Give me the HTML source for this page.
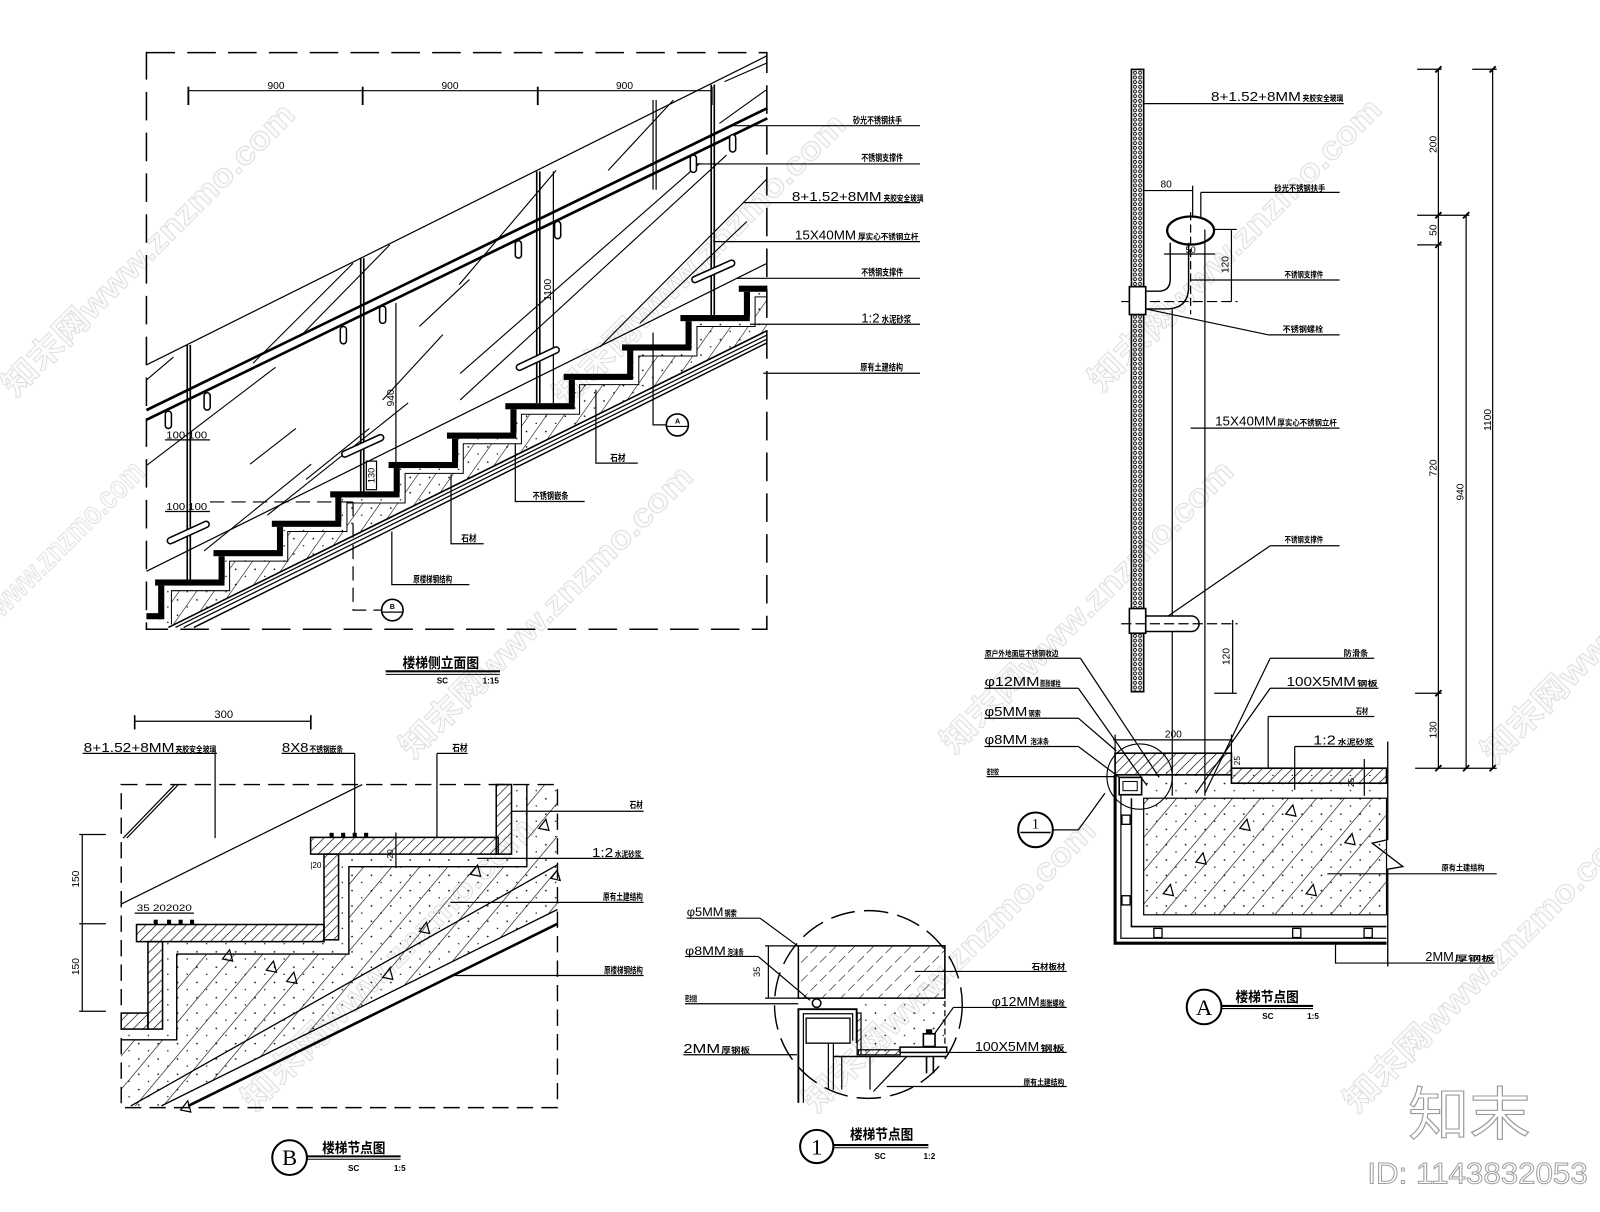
<!DOCTYPE html>
<html><head><meta charset="utf-8"><title>楼梯节点图</title>
<style>html,body{margin:0;padding:0;background:#fff}svg{display:block}</style></head>
<body>
<svg xmlns="http://www.w3.org/2000/svg" width="1600" height="1212" viewBox="0 0 1568 1188" preserveAspectRatio="none" font-family="'Liberation Sans','Noto Sans CJK SC',sans-serif">
<defs>
<pattern id="hc" width="14" height="14" patternUnits="userSpaceOnUse" patternTransform="rotate(35)"><line x1="0" y1="0" x2="0" y2="14" stroke="#000" stroke-width="1.1"/></pattern>
<pattern id="hb" width="21" height="21" patternUnits="userSpaceOnUse" patternTransform="rotate(40)"><line x1="0" y1="0" x2="0" y2="21" stroke="#000" stroke-width="1.2"/></pattern>
<pattern id="hs" width="7" height="7" patternUnits="userSpaceOnUse" patternTransform="rotate(45)"><line x1="0" y1="0" x2="0" y2="7" stroke="#000" stroke-width="1.3"/></pattern>
<pattern id="hd" width="13" height="13" patternUnits="userSpaceOnUse" patternTransform="rotate(45)"><line x1="0" y1="0" x2="0" y2="13" stroke="#000" stroke-width="1.1" stroke-dasharray="8 4"/></pattern>
<pattern id="dt" width="19" height="15" patternUnits="userSpaceOnUse"><circle cx="3" cy="3" r="0.8"/><circle cx="12.5" cy="10" r="0.7"/></pattern>
<pattern id="gl" x="1108.8" y="0" width="12" height="4.6" patternUnits="userSpaceOnUse"><circle cx="3.5" cy="2.3" r="1.5" fill="none" stroke="#000" stroke-width="0.9"/><circle cx="8.5" cy="2.3" r="1.5" fill="none" stroke="#000" stroke-width="0.9"/></pattern>
</defs>
<rect width="1568" height="1188" fill="#fff"/>

<!-- watermarks -->
<g font-size="32" font-weight="bold" fill="#fbfbfb" stroke="#dddddd" stroke-width="0.9">
<text transform="translate(15,390) rotate(-45)" textLength="390" lengthAdjust="spacingAndGlyphs">知末网www.znzmo.com</text>
<text transform="translate(2,606) rotate(-45)" textLength="200" lengthAdjust="spacingAndGlyphs">www.znzmo.com</text>
<text transform="translate(405,745) rotate(-45)" textLength="390" lengthAdjust="spacingAndGlyphs">知末网www.znzmo.com</text>
<text transform="translate(555,400) rotate(-45)" textLength="390" lengthAdjust="spacingAndGlyphs">知末网www.znzmo.com</text>
<text transform="translate(1080,385) rotate(-45)" textLength="390" lengthAdjust="spacingAndGlyphs">知末网www.znzmo.com</text>
<text transform="translate(935,740) rotate(-45)" textLength="390" lengthAdjust="spacingAndGlyphs">知末网www.znzmo.com</text>
<text transform="translate(800,1092) rotate(-45)" textLength="390" lengthAdjust="spacingAndGlyphs">知末网www.znzmo.com</text>
<text transform="translate(1330,1092) rotate(-45)" textLength="390" lengthAdjust="spacingAndGlyphs">知末网www.znzmo.com</text>
<text transform="translate(250,1090) rotate(-45)" textLength="390" lengthAdjust="spacingAndGlyphs">知末网www.znzmo.com</text>
<text transform="translate(1465,750) rotate(-45)" textLength="390" lengthAdjust="spacingAndGlyphs">知末网www.znzmo.com</text>
</g>

<!-- ================= ELEVATION ================= -->
<g stroke="#000" fill="none" stroke-width="1.2">
<rect x="143.5" y="51.6" width="608" height="565.2" stroke-dasharray="28 12" stroke-width="1.5"/>
<line x1="184" y1="88.9" x2="698" y2="88.9"/>
<line x1="184.6" y1="85" x2="184.6" y2="103" stroke-width="1.8"/>
<line x1="355.4" y1="85" x2="355.4" y2="103" stroke-width="1.8"/>
<line x1="527" y1="85" x2="527" y2="103" stroke-width="1.8"/>
<line x1="697.5" y1="85" x2="697.5" y2="103" stroke-width="1.8"/>
<polygon fill="url(#dt)" stroke="none" points="152,568 220,568 220,539 277,539 277,510 335,510 335,482 392,482 392,453 449,453 449,424 506,424 506,395 563,395 563,366 621,366 621,338 678,338 678,309 735,309 735,280 752,280 752,324 165,615 155,615 155,574"/>
<polygon fill="url(#hc)" stroke="none" points="168,612 168,579 225,579 225,550 282,550 282,521 340,521 340,493 397,493 397,464 454,464 454,435 511,435 511,406 568,406 568,377 626,377 626,349 683,349 683,320 740,320 740,291 752,291 752,324 165,615"/>
<polyline stroke-width="1" points="168,612 168,579 225,579 225,550 282,550 282,521 340,521 340,493 397,493 397,464 454,464 454,435 511,435 511,406 568,406 568,377 626,377 626,349 683,349 683,320 740,320 740,291 752,291"/>
<line x1="165" y1="615" x2="752" y2="324" stroke-width="1.6"/>
<line x1="172" y1="615" x2="752" y2="328.2"/>
<line x1="180" y1="615" x2="752" y2="332.2"/>
<line x1="190" y1="615" x2="752" y2="335.9" stroke-width="1.4"/>
<line x1="143.5" y1="357.7" x2="752" y2="54.5"/>
<line x1="143.5" y1="560" x2="752" y2="258"/>
<line x1="143.5" y1="402" x2="752" y2="106" stroke-width="2.6"/>
<line x1="143.5" y1="411.5" x2="752" y2="116" stroke-width="2.6"/>
<g stroke-width="1.1">
<line x1="144" y1="372" x2="170" y2="350"/>
<line x1="144" y1="456" x2="270" y2="360"/>
<line x1="248" y1="356" x2="346" y2="258"/>
<line x1="294" y1="330" x2="382" y2="240"/>
<line x1="200" y1="540" x2="305" y2="455"/>
<line x1="245" y1="455" x2="290" y2="420"/>
<line x1="262" y1="505" x2="400" y2="395"/>
<line x1="300" y1="470" x2="362" y2="420"/>
<line x1="375" y1="392" x2="434" y2="328"/>
<line x1="411" y1="320" x2="460" y2="274"/>
<line x1="450" y1="279" x2="545" y2="167"/>
<line x1="451" y1="366" x2="686" y2="160"/>
<line x1="451" y1="392" x2="712" y2="152"/>
<line x1="588" y1="340" x2="751" y2="176"/>
<line x1="627" y1="317" x2="732" y2="217"/>
<line x1="596" y1="167" x2="660" y2="98"/>
<line x1="705" y1="121" x2="751" y2="88"/>
<line x1="710" y1="80" x2="751" y2="62"/>
</g>
<line x1="640" y1="98" x2="640" y2="186"/>
<line x1="643" y1="98" x2="643" y2="186"/>
<line x1="183.5" y1="338" x2="183.5" y2="568" stroke-width="1.6"/><line x1="186.5" y1="338" x2="186.5" y2="568" stroke-width="1.6"/>
<line x1="353.5" y1="253" x2="353.5" y2="482" stroke-width="1.6"/><line x1="356.5" y1="253" x2="356.5" y2="482" stroke-width="1.6"/>
<line x1="526" y1="168" x2="526" y2="395" stroke-width="1.6"/><line x1="529" y1="168" x2="529" y2="395" stroke-width="1.6"/>
<line x1="697" y1="83" x2="697" y2="309" stroke-width="1.6"/><line x1="700" y1="83" x2="700" y2="309" stroke-width="1.6"/>
<line x1="542.3" y1="168" x2="542.3" y2="395"/>
<line x1="388" y1="297" x2="388" y2="455"/>
<rect x="359" y="452" width="10" height="28"/>
<line x1="161.7" y1="431.2" x2="205.8" y2="431.2"/>
<line x1="161.7" y1="501.4" x2="205.8" y2="501.4"/>
<line x1="205.8" y1="492" x2="346" y2="492" stroke-dasharray="14 7"/>
<polyline points="346,492 346,598 374,598" stroke-dasharray="14 7"/>
<g fill="#fff" stroke-width="1.5">
<rect x="162" y="403" width="6" height="17" rx="3"/>
<rect x="200" y="385" width="6" height="17" rx="3"/>
<rect x="333.5" y="320" width="6" height="17" rx="3"/>
<rect x="372" y="300" width="6" height="17" rx="3"/>
<rect x="505" y="236" width="6" height="17" rx="3"/>
<rect x="543.5" y="217" width="6" height="17" rx="3"/>
<rect x="676.5" y="152" width="6" height="17" rx="3"/>
<rect x="715" y="132" width="6" height="17" rx="3"/>
</g>
<g stroke-linecap="round">
<line x1="167" y1="530" x2="202" y2="514" stroke-width="7.5"/><line x1="167" y1="530" x2="202" y2="514" stroke-width="4.5" stroke="#fff"/>
<line x1="338" y1="445" x2="373" y2="429" stroke-width="7.5"/><line x1="338" y1="445" x2="373" y2="429" stroke-width="4.5" stroke="#fff"/>
<line x1="509" y1="360" x2="545" y2="343" stroke-width="7.5"/><line x1="509" y1="360" x2="545" y2="343" stroke-width="4.5" stroke="#fff"/>
<line x1="681" y1="274" x2="717" y2="258" stroke-width="7.5"/><line x1="681" y1="274" x2="717" y2="258" stroke-width="4.5" stroke="#fff"/>
</g>
<line x1="718" y1="123.2" x2="901.6" y2="123.2"/>
<line x1="682" y1="160.7" x2="901.6" y2="160.7"/>
<line x1="728" y1="198.6" x2="901.6" y2="198.6"/>
<line x1="699" y1="236.8" x2="901.6" y2="236.8"/>
<line x1="722" y1="272.8" x2="901.6" y2="272.8"/>
<line x1="735" y1="317.8" x2="901.6" y2="317.8"/>
<line x1="748" y1="365.9" x2="901.6" y2="365.9"/>
<polyline points="640,326 640,416.5 653,416.5"/>
<circle cx="663.8" cy="416.5" r="10.8" stroke-width="1.6"/>
<line x1="653" y1="418" x2="674.6" y2="418"/>
<polyline points="584,382 584,454 625,454"/>
<polyline points="505,435 505,491.6 573,491.6"/>
<polyline points="442,465 442,533 474,533"/>
<polyline points="384,521 384,573 460,573"/>
<circle cx="384.5" cy="598" r="10.5" stroke-width="1.6"/>
<line x1="374" y1="600" x2="395" y2="600"/>
<line x1="378" y1="658" x2="490" y2="658" stroke-width="2"/>
<line x1="378" y1="661" x2="490" y2="661" stroke-width="1"/>
</g>
<g fill="#000">
<rect x="152" y="568" width="68" height="6"/><rect x="209.2" y="539.2" width="68" height="6"/><rect x="266.4" y="510.4" width="68" height="6"/><rect x="323.6" y="481.6" width="68" height="6"/><rect x="380.8" y="452.8" width="68" height="6"/><rect x="438" y="424" width="68" height="6"/><rect x="495.2" y="395.2" width="68" height="6"/><rect x="552.4" y="366.4" width="68" height="6"/><rect x="609.6" y="337.6" width="68" height="6"/><rect x="666.8" y="308.8" width="68" height="6"/><rect x="724" y="280" width="28" height="6"/>
<rect x="214.2" y="545.2" width="6" height="23"/><rect x="271.4" y="516.4" width="6" height="23"/><rect x="328.6" y="487.6" width="6" height="23"/><rect x="385.8" y="458.8" width="6" height="23"/><rect x="443" y="430" width="6" height="23"/><rect x="500.2" y="401.2" width="6" height="23"/><rect x="557.4" y="372.4" width="6" height="23"/><rect x="614.6" y="343.6" width="6" height="23"/><rect x="671.8" y="314.8" width="6" height="23"/><rect x="729" y="286" width="6" height="23"/>
<rect x="155" y="574" width="6" height="33"/><rect x="143.5" y="601" width="15" height="6"/>
</g>
<g font-size="10" fill="#000">
<text x="270.5" y="87" text-anchor="middle">900</text>
<text x="441" y="87" text-anchor="middle">900</text>
<text x="612" y="87" text-anchor="middle">900</text>
<text transform="translate(540,284) rotate(-90)" text-anchor="middle">1100</text>
<text transform="translate(386,390) rotate(-90)" text-anchor="middle">940</text>
<text transform="translate(367,466) rotate(-90)" text-anchor="middle" font-size="9">130</text>
<text x="163" y="430" textLength="40" lengthAdjust="spacingAndGlyphs">100 100</text>
<text x="163" y="500" textLength="40" lengthAdjust="spacingAndGlyphs">100 100</text>
</g>
<g font-size="9" font-weight="bold" fill="#000">
<text x="836" y="121" textLength="48" lengthAdjust="spacingAndGlyphs">砂光不锈钢扶手</text>
<text x="844" y="158" textLength="41" lengthAdjust="spacingAndGlyphs">不锈钢支撑件</text>
<text x="776" y="197" font-size="13" font-weight="normal" textLength="88" lengthAdjust="spacingAndGlyphs">8+1.52+8MM</text>
<text x="866" y="197" font-size="8" textLength="39" lengthAdjust="spacingAndGlyphs">夹胶安全玻璃</text>
<text x="779" y="235" font-size="13" font-weight="normal" textLength="60" lengthAdjust="spacingAndGlyphs">15X40MM</text>
<text x="841" y="235" font-size="8" textLength="59" lengthAdjust="spacingAndGlyphs">厚实心不锈钢立杆</text>
<text x="844" y="270" textLength="41" lengthAdjust="spacingAndGlyphs">不锈钢支撑件</text>
<text x="844" y="316" font-size="13" font-weight="normal" textLength="18" lengthAdjust="spacingAndGlyphs">1:2</text>
<text x="864" y="316" textLength="29" lengthAdjust="spacingAndGlyphs">水泥砂浆</text>
<text x="843" y="363" textLength="42" lengthAdjust="spacingAndGlyphs">原有土建结构</text>
<text x="598" y="452" textLength="15" lengthAdjust="spacingAndGlyphs">石材</text>
<text x="522" y="489" textLength="35" lengthAdjust="spacingAndGlyphs">不锈钢嵌条</text>
<text x="452" y="531" textLength="15" lengthAdjust="spacingAndGlyphs">石材</text>
<text x="405" y="571" textLength="38" lengthAdjust="spacingAndGlyphs">原楼梯钢结构</text>
<text x="394.5" y="655" font-size="14" textLength="75" lengthAdjust="spacingAndGlyphs">楼梯侧立面图</text>
<text x="428" y="670" font-size="8">SC</text>
<text x="473" y="670" font-size="8">1:15</text>
<text x="664" y="415" font-size="7" text-anchor="middle">A</text>
<text x="384.5" y="597" font-size="7" text-anchor="middle">B</text>
</g>

<!-- ================= DETAIL B ================= -->
<g stroke="#000" fill="none" stroke-width="1.2">
<rect x="118.8" y="769" width="427.5" height="316.7" stroke-dasharray="16 8" stroke-width="1.4"/>
<line x1="132" y1="707" x2="304.6" y2="707"/>
<line x1="132" y1="701" x2="132" y2="715" stroke-width="1.6"/><line x1="304.6" y1="701" x2="304.6" y2="715" stroke-width="1.6"/>
<line x1="81" y1="738.5" x2="212.6" y2="738.5"/>
<line x1="210.8" y1="738.5" x2="210.8" y2="821.5"/>
<line x1="276" y1="738.5" x2="347.6" y2="738.5"/>
<line x1="347.6" y1="738.5" x2="347.6" y2="819.7"/>
<line x1="428.2" y1="738.5" x2="458.2" y2="738.5"/>
<line x1="428.2" y1="738.5" x2="428.2" y2="821.5"/>
<line x1="120.7" y1="821.5" x2="171.3" y2="769"/>
<line x1="124.2" y1="821.5" x2="174.8" y2="769"/>
<line x1="118.8" y1="886.2" x2="355" y2="769"/>
<polygon fill="url(#dt)" stroke="none" points="501.3,769 516.3,769 516.3,849.5 341.9,849.5 341.9,935.2 173.2,935.2 173.2,1019.2 118.8,1019.2 118.8,1008.7 159.3,1008.7 159.3,923 331.8,923 331.8,837.2 501.3,837.2"/>
<polygon fill="url(#hb)" stroke="none" points="118.8,1019.2 173.2,1019.2 173.2,935.2 341.9,935.2 341.9,849.5 516.3,849.5 516.3,769 546.3,769 546.3,891.5 158.2,1084 118.8,1084"/>
<polygon fill="url(#dt)" stroke="none" points="118.8,1019.2 173.2,1019.2 173.2,935.2 341.9,935.2 341.9,849.5 516.3,849.5 516.3,769 546.3,769 546.3,891.5 158.2,1084 118.8,1084"/>
<polyline stroke-width="1.4" points="118.8,1019.2 173.2,1019.2 173.2,935.2 341.9,935.2 341.9,849.5 516.3,849.5 516.3,769"/>
<line x1="128.2" y1="1084" x2="546.3" y2="847.7" stroke-width="1.3"/>
<line x1="158.2" y1="1084" x2="546.3" y2="891.5" stroke-width="1.3"/>
<line x1="184.4" y1="1084" x2="546.3" y2="905.5" stroke-width="2.6"/>
<g fill="#fff" stroke-width="1.5">
<rect x="304.4" y="820.8" width="183.8" height="16.4" fill="url(#hs)"/>
<rect x="486.3" y="769" width="15" height="68.2" fill="url(#hs)"/>
<rect x="317.5" y="837.2" width="14.3" height="84" fill="url(#hs)"/>
<rect x="133.8" y="906.2" width="183.7" height="16.8" fill="url(#hs)"/>
<rect x="145" y="923" width="14.3" height="85.7" fill="url(#hs)"/>
<rect x="118.8" y="993" width="26.2" height="15.7" fill="url(#hs)"/>
</g>
<g stroke-width="1.2">
<path d="M528,812 l7,-9 l3,11 z"/><path d="M540,861 l6,-8 l3,10 z"/><path d="M461,857 l7,-9 l3,11 z"/>
<path d="M411,913 l7,-9 l3,11 z"/><path d="M375,958 l7,-9 l3,11 z"/><path d="M281,962 l7,-9 l3,11 z"/>
<path d="M261,951 l7,-9 l3,11 z"/><path d="M218,940 l7,-9 l3,11 z"/><path d="M177,1088 l7,-9 l3,11 z" />
</g>
<line x1="80.6" y1="818" x2="80.6" y2="991.2"/>
<line x1="77.6" y1="818" x2="103.8" y2="818"/>
<line x1="77.6" y1="905.5" x2="103.8" y2="905.5"/>
<line x1="77.6" y1="991.2" x2="103.8" y2="991.2"/>
<line x1="132" y1="895" x2="190" y2="895"/>
<line x1="388" y1="816" x2="388" y2="851"/>
<line x1="501.3" y1="795.2" x2="630.7" y2="795.2"/>
<line x1="467.6" y1="841.4" x2="630.7" y2="841.4"/>
<line x1="441.3" y1="884.5" x2="630.7" y2="884.5"/>
<line x1="443" y1="956.2" x2="630.7" y2="956.2"/>
<circle cx="283.8" cy="1134.7" r="17" stroke-width="2"/>
<line x1="301" y1="1133.5" x2="392.6" y2="1133.5" stroke-width="2"/>
<line x1="301" y1="1136.3" x2="392.6" y2="1136.3" stroke-width="1"/>
</g>
<g fill="#000">
<rect x="150.6" y="901.5" width="4" height="4.5"/><rect x="163.7" y="901.5" width="4" height="4.5"/><rect x="175" y="901.5" width="4" height="4.5"/><rect x="186.2" y="901.5" width="4" height="4.5"/>
<rect x="323" y="816.3" width="4" height="4.5"/><rect x="334.3" y="816.3" width="4" height="4.5"/><rect x="345.6" y="816.3" width="4" height="4.5"/><rect x="356.8" y="816.3" width="4" height="4.5"/>
</g>
<g font-size="11" fill="#000">
<text x="219.3" y="704" text-anchor="middle">300</text>
<text x="82" y="737" font-size="13" textLength="89" lengthAdjust="spacingAndGlyphs">8+1.52+8MM</text>
<text x="172" y="737" font-size="8" font-weight="bold" textLength="40" lengthAdjust="spacingAndGlyphs">夹胶安全玻璃</text>
<text x="276.3" y="737" font-size="13" textLength="26" lengthAdjust="spacingAndGlyphs">8X8</text>
<text x="303.3" y="737" font-size="8" font-weight="bold" textLength="33" lengthAdjust="spacingAndGlyphs">不锈钢嵌条</text>
<text x="443.2" y="736" font-size="9" font-weight="bold" textLength="15" lengthAdjust="spacingAndGlyphs">石材</text>
<text transform="translate(77.5,861.7) rotate(-90)" text-anchor="middle" font-size="10">150</text>
<text transform="translate(77.5,947.5) rotate(-90)" text-anchor="middle" font-size="10">150</text>
<text x="134" y="893" font-size="9" textLength="54" lengthAdjust="spacingAndGlyphs">35 202020</text>
<text transform="translate(385,837) rotate(-90)" text-anchor="middle" font-size="8">20</text>
<text x="304" y="851" font-size="8">|20</text>
<text x="617" y="792" font-size="9" font-weight="bold" textLength="13" lengthAdjust="spacingAndGlyphs">石材</text>
<text x="580" y="840" font-size="13" textLength="21" lengthAdjust="spacingAndGlyphs">1:2</text>
<text x="602.6" y="840" font-size="8" font-weight="bold" textLength="26" lengthAdjust="spacingAndGlyphs">水泥砂浆</text>
<text x="591" y="882" font-size="9" font-weight="bold" textLength="39" lengthAdjust="spacingAndGlyphs">原有土建结构</text>
<text x="592" y="954" font-size="9" font-weight="bold" textLength="38" lengthAdjust="spacingAndGlyphs">原楼梯钢结构</text>
<text x="283.8" y="1142" text-anchor="middle" font-size="22" font-family="'Liberation Serif',serif">B</text>
<text x="315.7" y="1130" font-size="14" font-weight="bold" textLength="62" lengthAdjust="spacingAndGlyphs">楼梯节点图</text>
<text x="341" y="1148" font-size="8" font-weight="bold">SC</text>
<text x="386" y="1148" font-size="8" font-weight="bold">1:5</text>
</g>

<!-- ================= DETAIL 1 ================= -->
<g stroke="#000" fill="none" stroke-width="1.2">
<circle cx="851" cy="984.6" r="92" stroke-dasharray="24 9" stroke-width="1.4"/>
<polygon fill="url(#dt)" stroke="none" points="839.5,978.4 927.8,978.4 927.8,1026 882,1026 882,1031.6 841.2,1031.6 841.2,989.2"/>
<rect x="782.4" y="927.1" width="143.6" height="51.3" fill="url(#hd)" stroke-width="1.5"/>
<line x1="926" y1="927.1" x2="926" y2="1026" stroke-dasharray="6 3"/>
<line x1="753" y1="927.1" x2="753" y2="978.4"/>
<line x1="749.7" y1="927.1" x2="782.4" y2="927.1"/>
<line x1="749.7" y1="978.4" x2="782.4" y2="978.4"/>
<circle cx="800.3" cy="983.3" r="4.2" stroke-width="1.5"/>
<path d="M782.4,1081 V989.2 H839.5 V1022.5" stroke-width="1.8"/>
<path d="M787.3,1081 V993.7 H835.6 V1020" stroke-width="1.2"/>
<rect x="790" y="998" width="43" height="24.5" stroke-width="1.3"/>
<line x1="811.8" y1="1022.5" x2="811.8" y2="1068.2"/>
<line x1="816.7" y1="1022.5" x2="816.7" y2="1068.2"/>
<rect x="840" y="993" width="3.8" height="41" fill="url(#hs)"/>
<rect x="841.2" y="1029" width="41" height="5" fill="url(#hs)"/>
<line x1="816.7" y1="1035.6" x2="927.8" y2="1035.6" stroke-width="1.4"/>
<line x1="824.9" y1="1035.6" x2="824.9" y2="1068"/>
<line x1="852.6" y1="1035.6" x2="852.6" y2="1068"/>
<line x1="888.6" y1="1035.6" x2="855.9" y2="1069.9"/>
<line x1="908" y1="1035.6" x2="908" y2="1052" stroke-width="1.6"/>
<line x1="914.7" y1="1035.6" x2="914.7" y2="1052" stroke-width="1.6"/>
<rect x="882" y="1026.4" width="45.8" height="5.2" fill="#fff" stroke-width="1.5"/>
<rect x="904.9" y="1013.3" width="11.4" height="12.5" fill="#fff" stroke-width="1.6"/>
<rect x="908" y="1009.5" width="5" height="4" fill="#000"/>
<line x1="672.9" y1="900" x2="744.8" y2="900"/><line x1="744.8" y1="900" x2="782.4" y2="927.7"/>
<line x1="671.3" y1="937.5" x2="743" y2="937.5"/><line x1="743" y1="937.5" x2="793.8" y2="980.5"/>
<line x1="671.3" y1="983.9" x2="782.4" y2="983.9"/>
<line x1="669.7" y1="1033.9" x2="781" y2="1033.9"/>
<line x1="896.7" y1="952.2" x2="1045.4" y2="952.2"/>
<line x1="934.3" y1="987.5" x2="1045.4" y2="987.5"/><line x1="934.3" y1="987.5" x2="916.3" y2="1012.7"/>
<line x1="911.4" y1="1031.6" x2="1045.4" y2="1031.6"/>
<line x1="869" y1="1065" x2="1045.4" y2="1065"/>
<circle cx="800.4" cy="1123.8" r="16.3" stroke-width="2"/>
<line x1="816.7" y1="1122.4" x2="909.8" y2="1122.4" stroke-width="2"/>
<line x1="816.7" y1="1125" x2="909.8" y2="1125" stroke-width="1"/>
</g>
<g fill="#000" font-weight="bold">
<text x="673" y="898" font-size="12" font-weight="normal" textLength="36" lengthAdjust="spacingAndGlyphs">φ5MM</text>
<text x="710" y="898" font-size="8" textLength="12" lengthAdjust="spacingAndGlyphs">钢索</text>
<text x="671.3" y="936" font-size="12" font-weight="normal" textLength="40" lengthAdjust="spacingAndGlyphs">φ8MM</text>
<text x="713" y="936" font-size="8" textLength="16" lengthAdjust="spacingAndGlyphs">泡沫条</text>
<text x="671.3" y="981.5" font-size="8" textLength="12" lengthAdjust="spacingAndGlyphs">密封胶</text>
<text x="669.7" y="1032" font-size="13" font-weight="normal" textLength="36" lengthAdjust="spacingAndGlyphs">2MM</text>
<text x="707" y="1032" font-size="8" textLength="28" lengthAdjust="spacingAndGlyphs">厚钢板</text>
<text x="1011" y="950.5" font-size="8" textLength="33" lengthAdjust="spacingAndGlyphs">石材板材</text>
<text x="971.9" y="986" font-size="13" font-weight="normal" textLength="47" lengthAdjust="spacingAndGlyphs">φ12MM</text>
<text x="1019.5" y="986" font-size="8" textLength="24" lengthAdjust="spacingAndGlyphs">膨胀螺栓</text>
<text x="955.5" y="1030" font-size="13" font-weight="normal" textLength="63" lengthAdjust="spacingAndGlyphs">100X5MM</text>
<text x="1019.5" y="1030" font-size="8" textLength="24" lengthAdjust="spacingAndGlyphs">钢板</text>
<text x="1003" y="1063.5" font-size="8" textLength="40" lengthAdjust="spacingAndGlyphs">原有土建结构</text>
<text transform="translate(745,952.6) rotate(-90)" text-anchor="middle" font-size="9" font-weight="normal">35</text>
<text x="800.4" y="1131.5" text-anchor="middle" font-size="22" font-weight="normal" font-family="'Liberation Serif',serif">1</text>
<text x="833" y="1117" font-size="14" textLength="62" lengthAdjust="spacingAndGlyphs">楼梯节点图</text>
<text x="857" y="1136" font-size="8">SC</text>
<text x="905" y="1136" font-size="8">1:2</text>
</g>

<!-- ================= DETAIL A ================= -->
<g stroke="#000" fill="none" stroke-width="1.2">
<rect x="1108.8" y="68" width="12" height="610" fill="url(#gl)" stroke-width="1.6"/>
<line x1="1120.8" y1="101.6" x2="1316.8" y2="101.6"/>
<line x1="1120.8" y1="186.8" x2="1168.8" y2="186.8"/>
<line x1="1168.8" y1="182" x2="1168.8" y2="212"/>
<line x1="1176.8" y1="188.6" x2="1312.8" y2="188.6"/><line x1="1176.8" y1="188.6" x2="1176.8" y2="213"/>
<ellipse cx="1166.8" cy="226" rx="23" ry="13.8" stroke-width="2.2"/>
<line x1="1140.8" y1="249" x2="1190.8" y2="249"/>
<path d="M1146.8,238 V273.8 Q1146.8,285.4 1135,285.4 H1122.8" stroke-width="1.4"/>
<path d="M1164.8,238 V281 Q1164.8,302.8 1143,302.8 H1122.8" stroke-width="1.4"/>
<line x1="1166.8" y1="208" x2="1166.8" y2="308" stroke-dasharray="8 4"/>
<line x1="1098.8" y1="295.6" x2="1212.8" y2="295.6" stroke-dasharray="10 4"/>
<rect x="1106.8" y="281" width="16" height="27.3" fill="#fff" stroke-width="1.6"/>
<line x1="1148.8" y1="302.8" x2="1148.8" y2="780"/>
<line x1="1180.8" y1="225" x2="1180.8" y2="780"/>
<line x1="1206.8" y1="224.9" x2="1206.8" y2="295.6"/>
<line x1="1190" y1="224.9" x2="1212" y2="224.9"/>
<line x1="1166.8" y1="274.5" x2="1312.8" y2="274.5"/>
<line x1="1242.8" y1="328.2" x2="1312.8" y2="328.2"/><line x1="1242.8" y1="328.2" x2="1122.8" y2="302.8"/>
<line x1="1166.8" y1="419.6" x2="1312.8" y2="419.6"/>
<line x1="1244.8" y1="534.9" x2="1312.8" y2="534.9"/><line x1="1244.8" y1="534.9" x2="1144.8" y2="603.8"/>
<path d="M1122.8,603.8 H1167.5 A7.6,7.6 0 0 1 1167.5,619 H1122.8" fill="#fff" stroke-width="1.5"/>
<rect x="1106.8" y="596.5" width="16" height="24.2" fill="#fff" stroke-width="1.6"/>
<line x1="1098.8" y1="611.4" x2="1212.8" y2="611.4" stroke-dasharray="10 4"/>
<line x1="1208" y1="607.6" x2="1208" y2="679.5"/>
<line x1="1190" y1="679.5" x2="1212" y2="679.5"/>
<line x1="1409.6" y1="67.9" x2="1409.6" y2="753"/>
<line x1="1436.8" y1="211" x2="1436.8" y2="753"/>
<line x1="1462.8" y1="67.9" x2="1462.8" y2="753"/>
<line x1="1388.8" y1="67.9" x2="1412.8" y2="67.9"/><line x1="1442.8" y1="67.9" x2="1466.8" y2="67.9"/>
<line x1="1388.8" y1="211" x2="1440" y2="211"/>
<line x1="1388.8" y1="240" x2="1412.8" y2="240"/>
<line x1="1386.8" y1="679.5" x2="1412.8" y2="679.5"/>
<line x1="1386.8" y1="753" x2="1466.8" y2="753"/>
<g stroke-width="1.8">
<line x1="1406.6" y1="71" x2="1412.6" y2="65"/><line x1="1406.6" y1="214" x2="1412.6" y2="208"/><line x1="1406.6" y1="243" x2="1412.6" y2="237"/><line x1="1406.6" y1="682.5" x2="1412.6" y2="676.5"/><line x1="1406.6" y1="756" x2="1412.6" y2="750"/>
<line x1="1433.8" y1="214" x2="1439.8" y2="208"/><line x1="1433.8" y1="756" x2="1439.8" y2="750"/>
<line x1="1459.8" y1="71" x2="1465.8" y2="65"/><line x1="1459.8" y1="756" x2="1465.8" y2="750"/>
</g>
<polygon fill="url(#hb)" stroke="none" points="1120.8,782.4 1358.8,782.4 1358.8,896.7 1120.8,896.7"/>
<polygon fill="url(#dt)" stroke="none" points="1120.8,759.5 1358.8,759.5 1358.8,896.7 1120.8,896.7"/>
<rect x="1120.8" y="782.4" width="238" height="114.3" stroke-width="1.2"/>
<rect x="1092.8" y="738.3" width="114" height="21.2" fill="url(#hs)" stroke-width="1.6"/>
<rect x="1206.8" y="753" width="152" height="14.7" fill="url(#hs)" stroke-width="1.6"/>
<rect x="1096.8" y="762" width="22" height="17" fill="#fff" stroke-width="1.6"/>
<rect x="1100.5" y="766" width="14" height="9" stroke-width="1"/>
<path d="M1092.8,759.5 V924.5 H1358.8" stroke-width="3"/>
<path d="M1098.5,779 V919.7 H1358.8" stroke-width="1.2"/>
<path d="M1108.8,782.4 V908.2 H1358.8" stroke-width="1.5"/>
<g fill="#fff" stroke-width="1.3">
<rect x="1130.8" y="910" width="8" height="9"/><rect x="1266.8" y="910" width="8" height="9"/><rect x="1336.8" y="910" width="8" height="9"/>
<rect x="1099.5" y="799" width="8" height="9"/><rect x="1099.5" y="878" width="8" height="9"/>
</g>
<g stroke-width="1.2">
<path d="M1172,845 l7,-9 l3,11 z"/><path d="M1215,812 l7,-9 l3,11 z"/><path d="M1260,798 l7,-9 l3,11 z"/><path d="M1318,826 l7,-9 l3,11 z"/><path d="M1280,876 l7,-9 l3,11 z"/><path d="M1140,876 l7,-9 l3,11 z"/>
</g>
<polyline points="1360,726.8 1360,823 1344.8,826.5 1374.8,849.4 1360,852 1360,947.4" stroke-width="1.3"/>
<polyline points="1308.8,924.5 1308.8,944 1464.8,944"/>
<line x1="1300.8" y1="856.5" x2="1466.8" y2="856.5"/>
<line x1="1090.8" y1="725.2" x2="1208" y2="725.2"/>
<line x1="1092.8" y1="720" x2="1092.8" y2="738"/><line x1="1206.8" y1="720" x2="1206.8" y2="753"/>
<line x1="964.8" y1="645.2" x2="1058.8" y2="645.2"/><line x1="1058.8" y1="645.2" x2="1136" y2="762"/>
<line x1="964.8" y1="674.6" x2="1056.8" y2="674.6"/><line x1="1056.8" y1="674.6" x2="1124" y2="770"/>
<line x1="964.8" y1="704" x2="1056.8" y2="704"/><line x1="1056.8" y1="704" x2="1094" y2="736"/>
<line x1="964.8" y1="731.7" x2="1056.8" y2="731.7"/><line x1="1056.8" y1="731.7" x2="1097" y2="762"/>
<line x1="966.9" y1="761.2" x2="1094.3" y2="761.2"/>
<circle cx="1014.8" cy="813.4" r="17" stroke-width="2"/>
<line x1="1000" y1="816" x2="1029.6" y2="816" stroke-width="1.5"/>
<polyline points="1031.8,813.4 1056.8,813.4 1082.8,777.5"/>
<circle cx="1116.8" cy="761.2" r="32" stroke-width="1.1"/>
<line x1="1244.8" y1="645.2" x2="1346.8" y2="645.2"/><line x1="1244.8" y1="645.2" x2="1180.8" y2="777.5"/>
<line x1="1244.8" y1="674.6" x2="1350.8" y2="674.6"/><line x1="1244.8" y1="674.6" x2="1172" y2="777.5"/>
<line x1="1242.8" y1="702.3" x2="1346.8" y2="702.3"/><line x1="1242.8" y1="702.3" x2="1242.8" y2="752.9"/>
<line x1="1268.8" y1="731.7" x2="1346.8" y2="731.7"/><line x1="1268.8" y1="731.7" x2="1268.8" y2="774.2"/>
<line x1="1337" y1="744" x2="1337" y2="780"/>
<circle cx="1180" cy="987" r="17" stroke-width="2"/>
<line x1="1197" y1="986" x2="1286.8" y2="986" stroke-width="2"/>
<line x1="1197" y1="988.6" x2="1286.8" y2="988.6" stroke-width="1"/>
</g>
<g fill="#000" font-weight="bold">
<text x="1186.8" y="99" font-size="13" font-weight="normal" textLength="88" lengthAdjust="spacingAndGlyphs">8+1.52+8MM</text>
<text x="1276.5" y="99" font-size="8" textLength="40" lengthAdjust="spacingAndGlyphs">夹胶安全玻璃</text>
<text x="1142.8" y="184" font-size="10" font-weight="normal" text-anchor="middle">80</text>
<text x="1166.8" y="248" font-size="9" font-weight="normal" text-anchor="middle">50</text>
<text x="1248.8" y="187" font-size="8" textLength="50" lengthAdjust="spacingAndGlyphs">砂光不锈钢扶手</text>
<text x="1258.8" y="272" font-size="8" textLength="38" lengthAdjust="spacingAndGlyphs">不锈钢支撑件</text>
<text x="1256.8" y="325.5" font-size="8" textLength="40" lengthAdjust="spacingAndGlyphs">不锈钢螺栓</text>
<text x="1190.8" y="417" font-size="13" font-weight="normal" textLength="60" lengthAdjust="spacingAndGlyphs">15X40MM</text>
<text x="1252" y="417" font-size="8" textLength="58" lengthAdjust="spacingAndGlyphs">厚实心不锈钢立杆</text>
<text x="1258.8" y="532" font-size="8" textLength="38" lengthAdjust="spacingAndGlyphs">不锈钢支撑件</text>
<g font-weight="normal" font-size="10">
<text transform="translate(1204,259.3) rotate(-90)" text-anchor="middle">120</text>
<text transform="translate(1205,643.5) rotate(-90)" text-anchor="middle">120</text>
<text transform="translate(1408,141.5) rotate(-90)" text-anchor="middle">200</text>
<text transform="translate(1408,225.6) rotate(-90)" text-anchor="middle">50</text>
<text transform="translate(1408,458.7) rotate(-90)" text-anchor="middle">720</text>
<text transform="translate(1408,715.4) rotate(-90)" text-anchor="middle">130</text>
<text transform="translate(1434,482.3) rotate(-90)" text-anchor="middle">940</text>
<text transform="translate(1461,411.6) rotate(-90)" text-anchor="middle">1100</text>
<text x="1149.9" y="723" text-anchor="middle">200</text>
<text transform="translate(1215,745.6) rotate(-90)" text-anchor="middle" font-size="8">25</text>
<text transform="translate(1327,767) rotate(-90)" text-anchor="middle" font-size="8">25</text>
</g>
<text x="965.3" y="643" font-size="7.5" textLength="72" lengthAdjust="spacingAndGlyphs">原户外地面层不锈钢收边</text>
<text x="964.8" y="672.5" font-size="13" font-weight="normal" textLength="54" lengthAdjust="spacingAndGlyphs">φ12MM</text>
<text x="1019.5" y="672.5" font-size="7.5" textLength="20" lengthAdjust="spacingAndGlyphs">膨胀螺栓</text>
<text x="964.8" y="702" font-size="13" font-weight="normal" textLength="42" lengthAdjust="spacingAndGlyphs">φ5MM</text>
<text x="1008" y="702" font-size="7.5" textLength="12" lengthAdjust="spacingAndGlyphs">钢索</text>
<text x="964.8" y="729.5" font-size="13" font-weight="normal" textLength="42" lengthAdjust="spacingAndGlyphs">φ8MM</text>
<text x="1010" y="729.5" font-size="7.5" textLength="18" lengthAdjust="spacingAndGlyphs">泡沫条</text>
<text x="966.9" y="759" font-size="7.5" textLength="12" lengthAdjust="spacingAndGlyphs">密封胶</text>
<text x="1316.8" y="643" font-size="8" textLength="24" lengthAdjust="spacingAndGlyphs">防滑条</text>
<text x="1260.8" y="672.5" font-size="13" font-weight="normal" textLength="68" lengthAdjust="spacingAndGlyphs">100X5MM</text>
<text x="1330" y="672.5" font-size="7.5" textLength="20" lengthAdjust="spacingAndGlyphs">钢板</text>
<text x="1328.8" y="700" font-size="8" textLength="12" lengthAdjust="spacingAndGlyphs">石材</text>
<text x="1287" y="730" font-size="13" font-weight="normal" textLength="22" lengthAdjust="spacingAndGlyphs">1:2</text>
<text x="1311" y="730" font-size="7.5" textLength="35" lengthAdjust="spacingAndGlyphs">水泥砂浆</text>
<text x="1412.8" y="853.5" font-size="8" textLength="42" lengthAdjust="spacingAndGlyphs">原有土建结构</text>
<text x="1396.8" y="942" font-size="13" font-weight="normal" textLength="28" lengthAdjust="spacingAndGlyphs">2MM</text>
<text x="1425.5" y="942" font-size="7.5" textLength="39" lengthAdjust="spacingAndGlyphs">厚钢板</text>
<text x="1014.8" y="812" text-anchor="middle" font-size="14" font-weight="normal" font-family="'Liberation Serif',serif">1</text>
<text x="1180" y="995" text-anchor="middle" font-size="22" font-weight="normal" font-family="'Liberation Serif',serif">A</text>
<text x="1210.8" y="982" font-size="14" textLength="62" lengthAdjust="spacingAndGlyphs">楼梯节点图</text>
<text x="1237" y="999" font-size="8">SC</text>
<text x="1281" y="999" font-size="8">1:5</text>
</g>

<text x="1380" y="1112" font-size="56" fill="#fff" stroke="#9a9a9a" stroke-width="1.1" textLength="120" lengthAdjust="spacingAndGlyphs">知末</text>
<text x="1340" y="1160" font-size="29" fill="#fff" stroke="#a0a0a0" stroke-width="1" textLength="216" lengthAdjust="spacingAndGlyphs">ID: 1143832053</text>
</svg>
</body></html>
